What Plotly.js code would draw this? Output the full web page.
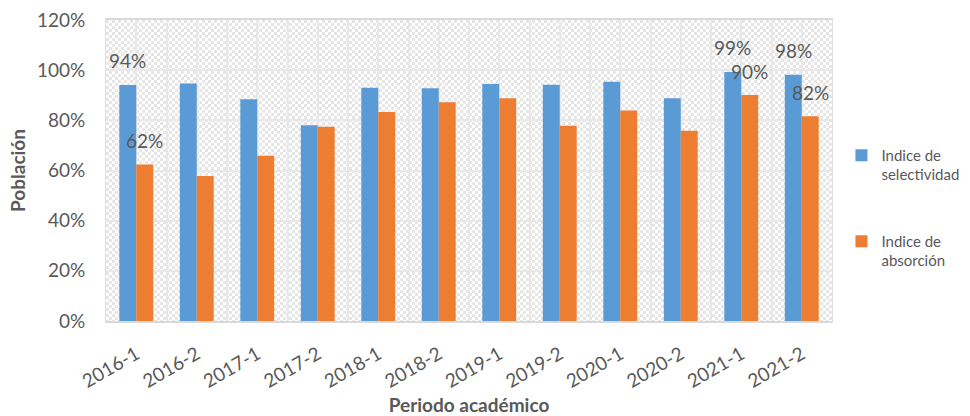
<!DOCTYPE html>
<html>
<head>
<meta charset="utf-8">
<script src="https://cdn.plot.ly/plotly-3.0.1.min.js"></script>
<style>
html,body{margin:0;padding:0;background:#fff;}
#chart{width:970px;height:416px;}
</style>
</head>
<body>
<div id="chart"></div>
<script>
// ---- data ----
var periodos = ["2016-1","2016-2","2017-1","2017-2","2018-1","2018-2","2019-1","2019-2","2020-1","2020-2","2021-1","2021-2"];
var selectividad = [94.1, 94.7, 88.4, 78.0, 93.0, 92.8, 94.5, 94.2, 95.4, 88.8, 99.3, 98.2];
var absorcion = [62.4, 57.8, 65.9, 77.4, 83.3, 87.2, 88.8, 77.8, 83.9, 75.8, 90.1, 81.6];
var nombreSel = "Indice de<br>selectividad";
var nombreAbs = "Indice de<br>absorción";
// bars that carry a data label
var etiquetasSel = ["2016-1","2021-1","2021-2"];
var etiquetasAbs = ["2016-1","2021-1","2021-2"];
var yTicks = [0, 20, 40, 60, 80, 100, 120];

// ---- hatched plot-area background ----
function patternURL(){
  var c = document.createElement('canvas');
  c.width = 726; c.height = 301;
  var g = c.getContext('2d');
  g.fillStyle = '#ffffff'; g.fillRect(0,0,c.width,c.height);
  g.fillStyle = '#e6e6e6';
  var s = 3;
  for (var y = 0; y < c.height; y += s){
    for (var x = 0; x < c.width; x += s){
      if (((x/s) + (y/s)) % 2 === 0) g.fillRect(x,y,s,s);
    }
  }
  return c.toDataURL('image/png');
}

var FONT = 'Lato, "Open Sans", sans-serif';
var GRAY = '#595959';

var traces = [
  {type:'bar', x:periodos, y:selectividad, name:nombreSel, legendgroup:'a',
   marker:{color:'#5B9BD5', line:{width:0}}, hoverinfo:'x+y'},
  {type:'bar', x:periodos, y:absorcion, name:nombreAbs, legendgroup:'b',
   marker:{color:'#ED7D31', line:{width:0}}, hoverinfo:'x+y'},
  // empty helper trace so the overlaid grid axis (half-category gridlines) is drawn
  {type:'scatter', x:[], y:[], xaxis:'x2', yaxis:'y', showlegend:false, hoverinfo:'skip'}
];

var annotations = [];
periodos.forEach(function(p, i){
  if (etiquetasSel.indexOf(p) >= 0){
    annotations.push({x:p, y:selectividad[i], xref:'x', yref:'y', text:Math.round(selectividad[i])+'%',
      showarrow:false, xshift:-8.5, yshift:24, yanchor:'middle', xanchor:'center',
      font:{family:FONT, size:19, color:GRAY}});
  }
  if (etiquetasAbs.indexOf(p) >= 0){
    annotations.push({x:p, y:absorcion[i], xref:'x', yref:'y', text:Math.round(absorcion[i])+'%',
      showarrow:false, xshift:8.5, yshift:24, yanchor:'middle', xanchor:'center',
      font:{family:FONT, size:19, color:GRAY}});
  }
});

var layout = {
  width:970, height:416,
  margin:{l:106, r:138, t:20, b:95, autoexpand:false},
  paper_bgcolor:'#ffffff', plot_bgcolor:'rgba(0,0,0,0)',
  font:{family:FONT, color:GRAY},
  barmode:'group', bargap:0.44, bargroupgap:0,
  showlegend:true,
  legend:{x:1.013, y:0.605, xanchor:'left', yanchor:'top', valign:'top',
    font:{family:FONT, size:15, color:GRAY}, tracegroupgap:44, bgcolor:'rgba(0,0,0,0)'},
  xaxis:{type:'category', showgrid:false, tickangle:-30,
    tickfont:{family:FONT, size:19, color:GRAY},
    showline:true, linecolor:'#d9d9d9', linewidth:2, mirror:true,
    ticks:'outside', ticklen:13, tickcolor:'rgba(0,0,0,0)',
    title:{text:'<b>Periodo académico</b>', font:{family:FONT, size:19, color:GRAY}, standoff:8}},
  xaxis2:{overlaying:'x', anchor:'y', range:[-0.5, periodos.length-0.5], tick0:-0.5, dtick:0.5,
    showgrid:true, gridcolor:'#e8e8e8', gridwidth:2, showticklabels:false, ticks:'', zeroline:false, showline:false},
  yaxis:{range:[0, 120], tickvals:yTicks, ticktext:yTicks.map(function(v){return v+'%';}),
    showgrid:true, gridcolor:'#e8e8e8', gridwidth:2, zeroline:false,
    tickfont:{family:FONT, size:19, color:GRAY},
    showline:true, linecolor:'#e0e0e0', linewidth:1, mirror:true,
    ticks:'outside', ticklen:16, tickcolor:'rgba(0,0,0,0)',
    title:{text:'<b>Población</b>', font:{family:FONT, size:19, color:GRAY}, standoff:6}},
  images:[{source:patternURL(), xref:'paper', yref:'paper', x:0, y:1, sizex:1, sizey:1,
    sizing:'stretch', layer:'below', xanchor:'left', yanchor:'top'}],
  annotations:annotations
};

Plotly.newPlot('chart', traces, layout, {displayModeBar:false, staticPlot:true});
</script>
</body>
</html>
